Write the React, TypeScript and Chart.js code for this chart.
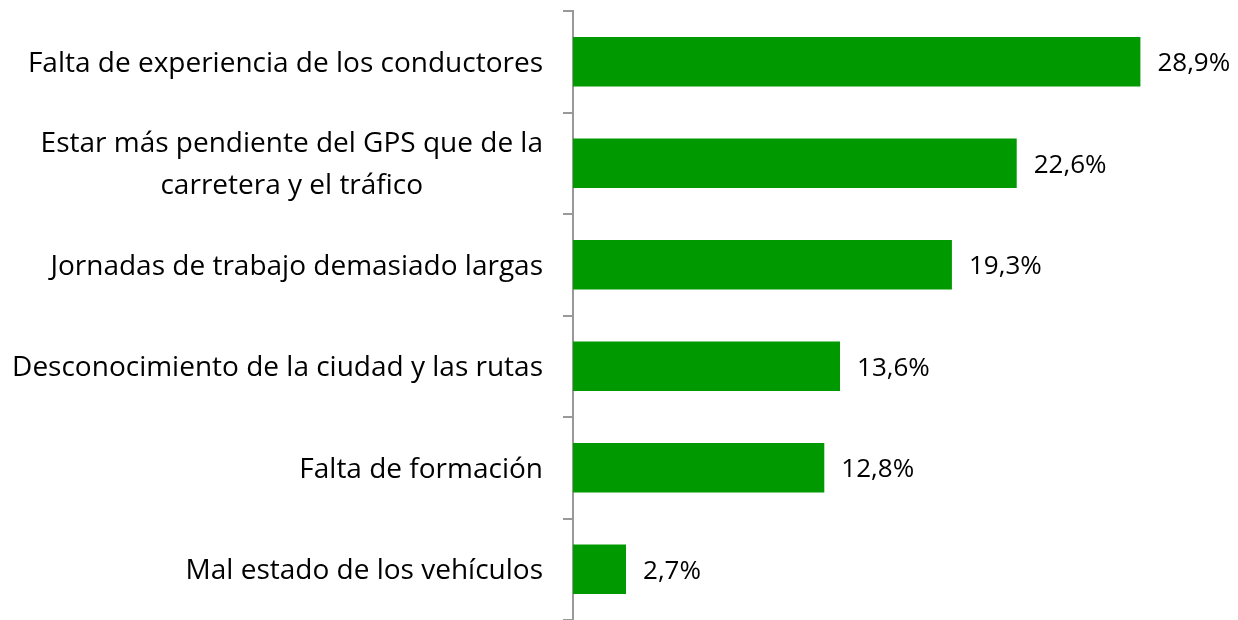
import React, { useEffect, useRef } from "react";
import { Chart, registerables } from "chart.js";

Chart.register(...registerables);

const categories: (string | string[])[] = [
  "Falta de experiencia de los conductores",
  ["Estar más pendiente del GPS que de la", "carretera y el tráfico"],
  "Jornadas de trabajo demasiado largas",
  "Desconocimiento de la ciudad y las rutas",
  "Falta de formación",
  "Mal estado de los vehículos",
];
const values: number[] = [28.9, 22.6, 19.3, 13.6, 12.8, 2.7];
const valueLabels: string[] = ["28,9%", "22,6%", "19,3%", "13,6%", "12,8%", "2,7%"];

const FONT = '"Open Sans", "Noto Sans", sans-serif';
const CAT_FONT_SIZE = 28;
const VAL_FONT_SIZE = 26;

const labelPlugin = {
  id: "customLabels",
  afterDraw(chart: any) {
    const ctx = chart.ctx;
    const y = chart.scales.y;
    const x = chart.scales.x;
    ctx.save();
    ctx.font = `${CAT_FONT_SIZE}px ${FONT}`;
    ctx.fillStyle = "#000000";
    ctx.textBaseline = "middle";
    const right = chart.chartArea.left - 30;
    const lineH = 42;
    categories.forEach((c, i) => {
      const cy = y.getPixelForValue(i) + 2;
      const lines = Array.isArray(c) ? c : [c];
      const widths = lines.map((l) => ctx.measureText(l).width);
      const bw = Math.max(...widths);
      const cx = right - bw / 2;
      ctx.textAlign = "center";
      lines.forEach((l, k) => {
        const ly = cy + (k - (lines.length - 1) / 2) * lineH;
        ctx.fillText(l, cx, ly);
      });
    });
    ctx.font = `${VAL_FONT_SIZE}px ${FONT}`;
    ctx.textAlign = "left";
    values.forEach((v, i) => {
      const cy = y.getPixelForValue(i);
      ctx.fillText(valueLabels[i], x.getPixelForValue(v) + 17, cy + 2);
    });
    ctx.restore();
  },
};

export default function App() {
  const ref = useRef<HTMLCanvasElement | null>(null);
  useEffect(() => {
    if (!ref.current) return;
    const chart = new Chart(ref.current, {
      type: "bar",
      data: {
        labels: categories.map((c) => (Array.isArray(c) ? c.join(" ") : c)),
        datasets: [
          {
            data: values,
            backgroundColor: "#009900",
            borderWidth: 0,
            barPercentage: 0.49,
            categoryPercentage: 1,
          },
        ],
      },
      options: {
        indexAxis: "y",
        animation: false,
        responsive: true,
        maintainAspectRatio: false,
        layout: { padding: { top: 11, right: 76, bottom: 0, left: 0 } },
        plugins: { legend: { display: false }, tooltip: { enabled: false } },
        scales: {
          x: { display: false, min: 0, max: 30 },
          y: {
            type: "category",
            offset: true,
            ticks: { display: false },
            grid: {
              offset: true,
              drawOnChartArea: false,
              drawTicks: true,
              tickLength: 10,
              color: "#999999",
              lineWidth: 2,
            },
            border: { display: true, color: "#999999", width: 2 },
            afterFit(scale: any) {
              scale.width = 573;
            },
          },
        },
      },
      plugins: [labelPlugin],
    });
    return () => chart.destroy();
  }, []);
  return (
    <div style={{ position: "fixed", left: 0, top: 0, width: 1238, height: 620, background: "#fff" }}>
      <canvas ref={ref} />
    </div>
  );
}
